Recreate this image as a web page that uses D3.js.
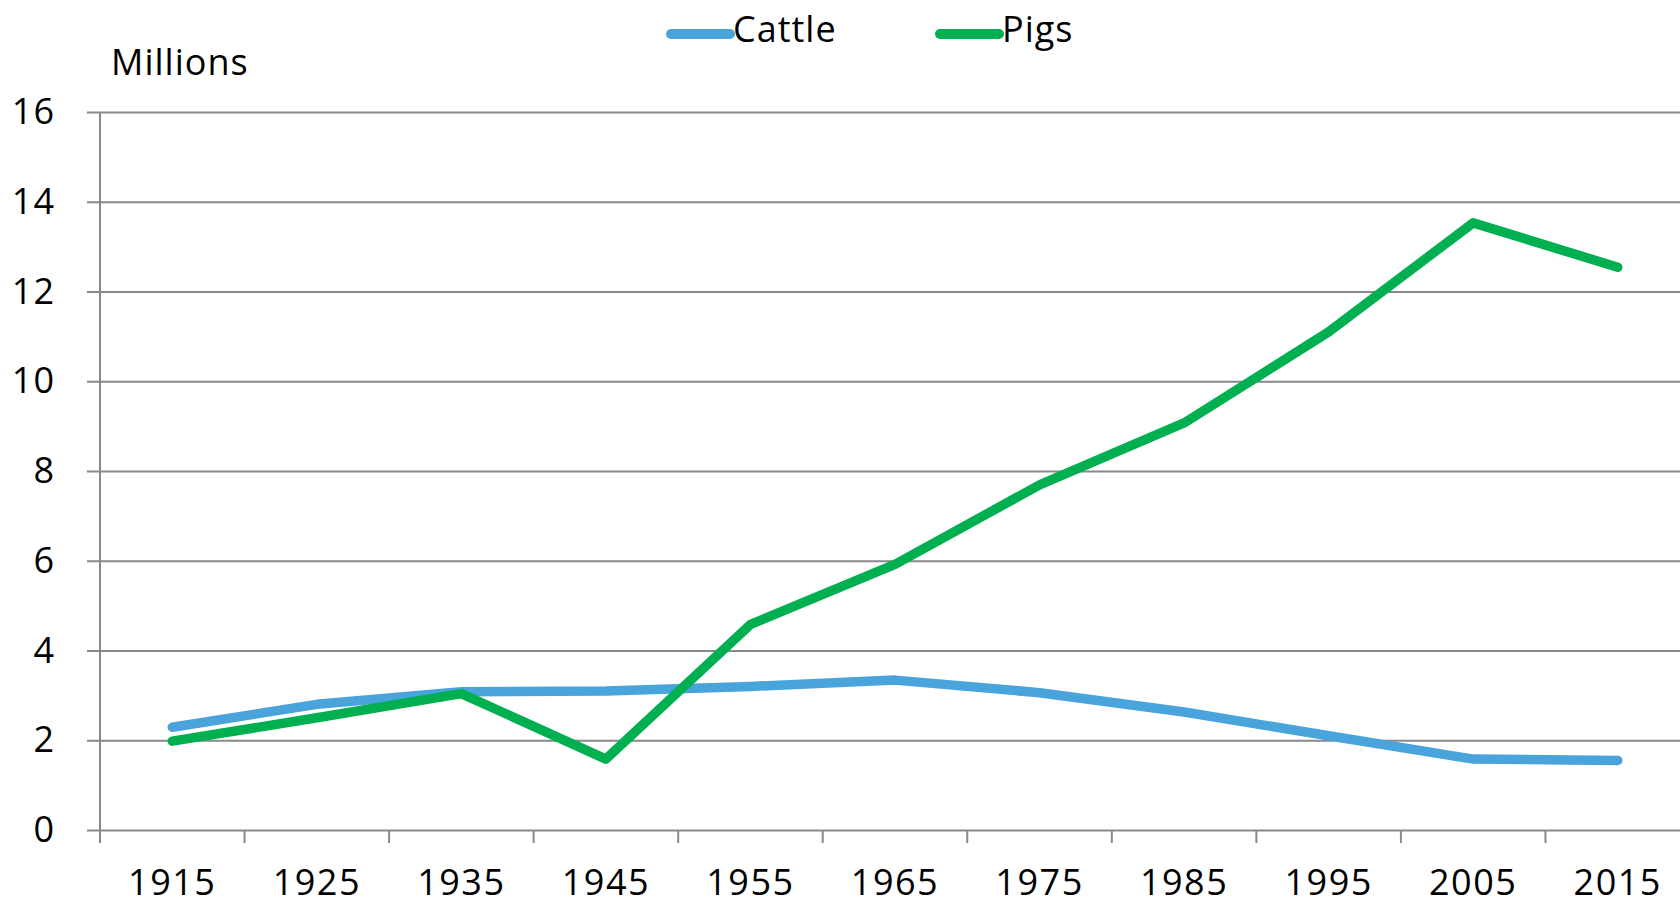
<!DOCTYPE html>
<html>
<head>
<meta charset="utf-8">
<script src="https://cdn.jsdelivr.net/npm/d3@7"></script>
<style>
  body { margin: 0; background: #fff; }
  svg text { font-family: "Open Sans", sans-serif; fill: #000; }
</style>
</head>
<body>
<div id="chart"></div>
<script>
// Chart data
const years = ["1915", "1925", "1935", "1945", "1955", "1965", "1975", "1985", "1995", "2005", "2015"];
const cattle = [2.29, 2.80, 3.08, 3.10, 3.20, 3.34, 3.06, 2.63, 2.10, 1.58, 1.55];
const pigs = [1.98, 2.50, 3.04, 1.58, 4.58, 5.92, 7.69, 9.07, 11.10, 13.53, 12.54];
const yTicks = [0, 2, 4, 6, 8, 10, 12, 14, 16];

const series = [
    { name: "Cattle", values: cattle, color: "#49a4dc" },
    { name: "Pigs", values: pigs, color: "#00b050" }
];

const W = 1680, H = 906;
const margin = { top: 112, left: 100, bottom: 76 };
const plotRight = 1690; // plot runs slightly past the right edge, as in the original
const gridColor = "#898989";

const svg = d3.select("#chart")
    .append("svg")
    .attr("width", W)
    .attr("height", H);

const x = d3.scaleBand()
    .domain(years)
    .range([margin.left, plotRight])
    .padding(0);

const y = d3.scaleLinear()
    .domain([0, 16])
    .range([H - margin.bottom, margin.top]);

// Horizontal gridlines + y labels
const yAxis = svg.append("g")
    .attr("transform", `translate(${margin.left},0)`)
    .call(d3.axisLeft(y).tickValues(yTicks).tickSize(13).tickPadding(32).tickFormat(d3.format("d")));
yAxis.select(".domain").remove();
yAxis.selectAll(".tick line")
    .attr("x2", -13)
    .attr("stroke", gridColor)
    .attr("stroke-width", 2);
yAxis.selectAll(".tick").append("line")
    .attr("x1", 0)
    .attr("x2", plotRight - margin.left)
    .attr("stroke", gridColor)
    .attr("stroke-width", 2);
yAxis.selectAll(".tick text")
    .style("font-size", "36px")
    .style("letter-spacing", "1px");

// Vertical axis line
svg.append("line")
    .attr("x1", margin.left).attr("x2", margin.left)
    .attr("y1", y(16)).attr("y2", y(0) + 13)
    .attr("stroke", gridColor)
    .attr("stroke-width", 2);

// X axis labels (centred in each band)
const xAxis = svg.append("g")
    .attr("transform", `translate(0,${y(0)})`)
    .call(d3.axisBottom(x).tickSize(0).tickPadding(39));
xAxis.select(".domain").remove();
xAxis.selectAll(".tick text")
    .style("font-size", "36px")
    .style("letter-spacing", "1.5px");

// X tick marks at band boundaries
const bounds = years.map(d => x(d)).concat([x(years[years.length - 1]) + x.bandwidth()]);
svg.append("g")
    .selectAll("line")
    .data(bounds)
    .join("line")
    .attr("x1", d => d).attr("x2", d => d)
    .attr("y1", y(0)).attr("y2", y(0) + 13)
    .attr("stroke", gridColor)
    .attr("stroke-width", 2);

// Lines
const line = d3.line()
    .x((d, i) => x(years[i]) + x.bandwidth() / 2)
    .y(d => y(d));

svg.append("g")
    .selectAll("path")
    .data(series)
    .join("path")
    .attr("fill", "none")
    .attr("stroke", d => d.color)
    .attr("stroke-width", 9.5)
    .attr("stroke-linecap", "round")
    .attr("stroke-linejoin", "round")
    .attr("d", d => line(d.values));

// Unit label
svg.append("text")
    .attr("x", 111)
    .attr("y", 75)
    .style("font-size", "36px")
    .style("letter-spacing", "1px")
    .text("Millions");

// Legend
const legendPos = [671, 940];
const legend = svg.append("g")
    .selectAll("g")
    .data(series)
    .join("g")
    .attr("transform", (d, i) => `translate(${legendPos[i]},34)`);
legend.append("line")
    .attr("x1", 0).attr("x2", 59)
    .attr("stroke", d => d.color)
    .attr("stroke-width", 10)
    .attr("stroke-linecap", "round");
legend.append("text")
    .attr("x", 62)
    .attr("y", 8)
    .style("font-size", "36px")
    .style("letter-spacing", "1px")
    .text(d => d.name);
</script>
</body>
</html>
